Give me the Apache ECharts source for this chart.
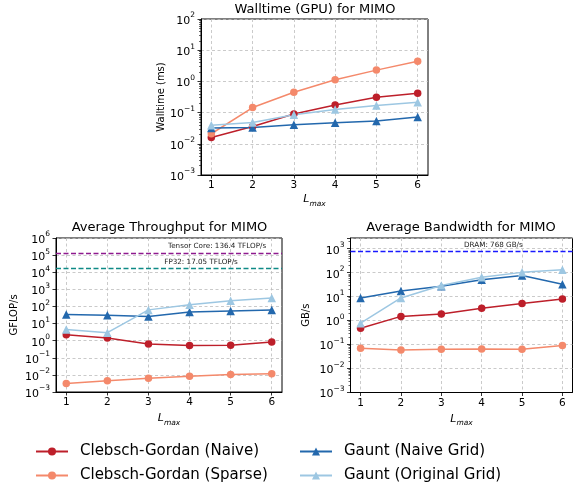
<!DOCTYPE html>
<html>
<head>
<meta charset="utf-8">
<script src="https://cdn.jsdelivr.net/npm/echarts@6/dist/echarts.min.js"></script>
<style>html,body{margin:0;padding:0;background:#fff}#c{width:573px;height:486px}</style>
</head>
<body>
<div id="c"></div>
<script>
// ---- data ----
const lmax = [1, 2, 3, 4, 5, 6];
const seriesNames = ['Clebsch-Gordan (Naive)', 'Clebsch-Gordan (Sparse)', 'Gaunt (Naive Grid)', 'Gaunt (Original Grid)'];
// Walltime (ms)
const wallCGNaive    = [0.016, 0.036, 0.09, 0.176, 0.31, 0.42];
const wallCGSparse   = [0.021, 0.145, 0.45, 1.13, 2.3, 4.4];
const wallGauntNaive = [0.032, 0.033, 0.041, 0.047, 0.054, 0.072];
const wallGauntOrig  = [0.039, 0.048, 0.085, 0.125, 0.168, 0.215];
// Throughput (GFLOP/s)
const tputCGNaive    = [2.24, 1.43, 0.64, 0.53, 0.54, 0.84];
const tputCGSparse   = [0.0031, 0.0045, 0.0064, 0.0084, 0.0105, 0.0115];
const tputGauntNaive = [33.6, 30.7, 25.7, 48, 55, 63];
const tputGauntOrig  = [4.5, 2.95, 63, 126, 218, 315];
// Bandwidth (GB/s)
const bwCGNaive      = [0.48, 1.5, 1.9, 3.3, 5.2, 8.0];
const bwCGSparse     = [0.070, 0.060, 0.064, 0.066, 0.064, 0.091];
const bwGauntNaive   = [8.8, 17.2, 27, 51, 77, 32.6];
const bwGauntOrig    = [0.78, 8.8, 29, 65, 103, 133];
// Peaks
const peakTensorCore = 136400; // GFLOP/s
const peakFP32 = 17050;        // GFLOP/s
const peakDRAM = 768;          // GB/s
const peakLabels = ['Tensor Core: 136.4 TFLOP/s', 'FP32: 17.05 TFLOP/s', 'DRAM: 768 GB/s'];

// ---- styles ----
const FONT = 'DejaVu Sans';
const colors = ['#bd1f2a', '#f4896b', '#2368ad', '#9dc7e2'];
const symbols = ['circle', 'circle', 'triangle', 'triangle'];
const symSizes = [7.5, 7.5, 8.5, 8.5];

const grids = [
  {left: 201, top: 19, width: 227, height: 156},
  {left: 56, top: 238, width: 226, height: 154},
  {left: 350.5, top: 238, width: 222, height: 154.5}
];
const yRanges = [[0.001, 100], [0.001, 1e6], [0.001, 2800]];

function supLabel(v) {
  const e = Math.log10(v);
  const r = Math.round(e);
  if (Math.abs(e - r) > 1e-6) return '';
  const s = r < 0 ? '\u2212' + (-r) : String(r);
  return '{b|10}{s|' + s + '}';
}
function minorTicks(lo, hi) {
  const out = [];
  const d0 = Math.floor(Math.log10(lo) + 1e-9), d1 = Math.ceil(Math.log10(hi) - 1e-9);
  for (let d = d0; d < d1; d++) for (let k = 2; k < 10; k++) {
    const v = k * Math.pow(10, d);
    if (v > lo && v < hi) out.push(v);
  }
  return out;
}
const gridLine = {show: true, lineStyle: {color: '#bdbdbd', width: 0.8, type: [3, 2.5]}};

const xAxes = grids.map((g, i) => ({
  type: 'value', gridIndex: i, min: 0.75, max: 6.25,
  name: '{L|L}{m|max}', nameLocation: 'middle', nameGap: i === 0 ? 19 : 21,
  nameTextStyle: {rich: {
    L: {fontFamily: FONT, fontSize: 11, fontStyle: 'italic', color: '#000', verticalAlign: 'top', lineHeight: 14},
    m: {fontFamily: FONT, fontSize: 7.5, fontStyle: 'italic', color: '#000', verticalAlign: 'bottom', lineHeight: 8}
  }},
  axisLine: {show: true, onZero: false, lineStyle: {color: '#000', width: 1}},
  axisTick: {show: true, length: 3.5, customValues: lmax, lineStyle: {color: '#000', width: 0.8}},
  axisLabel: {customValues: lmax, margin: 5, fontFamily: FONT, fontSize: 10.5, color: '#000'},
  splitLine: gridLine
}));

const yAxes = [];
const yNames = ['Walltime (ms)', 'GFLOP/s', 'GB/s'];
const yGaps = [35, 37, 39];
grids.forEach((g, i) => {
  yAxes.push({
    type: 'log', logBase: 10, gridIndex: i, min: yRanges[i][0], max: yRanges[i][1], position: 'left',
    name: yNames[i], nameLocation: 'middle', nameGap: yGaps[i],
    nameTextStyle: {fontFamily: FONT, fontSize: 10, color: '#000'},
    axisLine: {show: true, onZero: false, lineStyle: {color: '#000', width: 1}},
    axisTick: {show: true, length: 3.5, lineStyle: {color: '#000', width: 0.8}},
    axisLabel: {margin: 6, formatter: supLabel, rich: {
      b: {fontFamily: FONT, fontSize: 11, color: '#000', lineHeight: 15, verticalAlign: 'bottom'},
      s: {fontFamily: FONT, fontSize: 7.5, color: '#000', lineHeight: 8, verticalAlign: 'top'}
    }},
    splitLine: gridLine
  });
});
// minor ticks (top and bottom-right)
[0, 2].forEach(i => {
  yAxes.push({
    type: 'log', logBase: 10, gridIndex: i, min: yRanges[i][0], max: yRanges[i][1], position: 'left', offset: 0,
    axisLine: {show: false}, axisLabel: {show: false}, splitLine: {show: false},
    axisTick: {show: true, length: 2, customValues: minorTicks(yRanges[i][0], yRanges[i][1]), lineStyle: {color: '#000', width: 0.6}}
  });
});

function pairs(arr) { return lmax.map((x, k) => [x, arr[k]]); }
const panels = [
  [wallCGNaive, wallCGSparse, wallGauntNaive, wallGauntOrig],
  [tputCGNaive, tputCGSparse, tputGauntNaive, tputGauntOrig],
  [bwCGNaive, bwCGSparse, bwGauntNaive, bwGauntOrig]
];
const series = [];
const peakLine = (v, c) => ({yAxis: v, lineStyle: {color: c, type: [5, 2.5], width: 1.3}});
const peakText = (x, y, t) => ({coord: [x, y], symbolSize: 0, label: {show: true, position: 'inside', formatter: t, fontFamily: FONT, fontSize: 7.2, color: '#222'}});
panels.forEach((sets, p) => {
  sets.forEach((arr, s) => {
    const ser = {
      type: 'line', name: seriesNames[s], xAxisIndex: p, yAxisIndex: p,
      data: pairs(arr), symbol: symbols[s], symbolSize: symSizes[s],
      lineStyle: {color: colors[s], width: 1.5}, itemStyle: {color: colors[s]},
      showSymbol: true, animation: false
    };
    if (s === 0 && p === 1) {
      ser.markLine = {silent: true, symbol: ['none', 'none'], label: {show: false}, animation: false,
        data: [peakLine(peakTensorCore, '#8e1a8e'), peakLine(peakFP32, '#0f8a86')]};
      ser.markPoint = {silent: true, animation: false,
        data: [peakText(4.67, peakTensorCore * 2.5, peakLabels[0]), peakText(4.28, peakFP32 * 2.3, peakLabels[1])]};
    }
    if (s === 0 && p === 2) {
      ser.markLine = {silent: true, symbol: ['none', 'none'], label: {show: false}, animation: false,
        data: [peakLine(peakDRAM, '#1a1aff')]};
      ser.markPoint = {silent: true, animation: false,
        data: [peakText(4.29, peakDRAM * 1.8, peakLabels[2])]};
    }
    series.push(ser);
  });
});

const titleText = (x, y, t) => ({type: 'text', x: x, y: y, style: {text: t, fontFamily: FONT, fontSize: 13, fill: '#000', align: 'center', verticalAlign: 'middle'}});

const legendCommon = {
  orient: 'vertical', padding: 0, itemWidth: 32, itemHeight: 10, itemGap: 9,
  textStyle: {fontFamily: FONT, fontSize: 15, color: '#000', padding: [0, 0, 0, 7]}
};

const option = {
  animation: false,
  backgroundColor: '#fff',
  grid: grids.map(g => Object.assign({show: true, borderColor: '#000', borderWidth: 1, backgroundColor: 'transparent', containLabel: false}, g)),
  xAxis: xAxes,
  yAxis: yAxes,
  legend: [
    Object.assign({left: 35, top: 444, data: [seriesNames[0], seriesNames[1]]}, legendCommon),
    Object.assign({left: 299, top: 444, data: [seriesNames[2], seriesNames[3]]}, legendCommon)
  ],
  graphic: [
    titleText(315, 10, 'Walltime (GPU) for MIMO'),
    titleText(169.5, 228, 'Average Throughput for MIMO'),
    titleText(461, 228, 'Average Bandwidth for MIMO')
  ],
  series: series
};
const chart = echarts.init(document.getElementById('c'), null, {renderer: 'canvas'});
chart.setOption(option);
</script>
</body>
</html>
